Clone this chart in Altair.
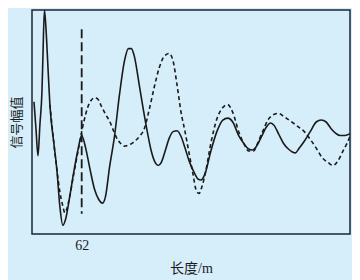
import altair as alt
import pandas as pd

# length (m) and signal amplitude (arbitrary units)
solid_x = [14, 16, 18, 20, 22, 23, 24.5, 26, 28, 30, 34, 37, 40, 43, 46, 50, 54, 58, 62, 66,
           70, 75, 79, 83, 86, 90, 95, 100, 105, 109, 112, 115, 120, 124, 128, 132, 136, 139,
           142, 146, 150, 154, 158, 162, 166, 170, 175, 179, 182, 186, 192, 198, 204, 209, 214,
           220, 225, 230, 234, 238, 243, 248, 252, 256, 260, 265, 270, 274, 277, 281, 286, 292,
           298, 303, 308, 313, 318, 322, 327, 332]
solid_y = [137, 109, 81, 114, 147, 184, 232, 214, 174, 134, 94, 67, 29, 9, 16, 39, 64, 86, 102, 89,
           69, 46, 36, 32, 39, 69, 101, 144, 179, 192, 192, 184, 154, 129, 106, 86, 74, 71,
           74, 86, 99, 106, 107, 101, 89, 76, 64, 57, 56, 62, 86, 106, 118, 120, 116,
           102, 94, 88, 87, 91, 101, 111, 115, 112, 104, 94, 88, 85, 84, 89, 96, 106,
           116, 118, 116, 109, 104, 102, 102, 104]

dashed_x = [30, 34, 37, 40, 43, 45, 47, 50, 54, 58, 62, 66, 70, 75, 78, 82, 86, 90, 94, 98,
            102, 105, 109, 114, 120, 125, 130, 135, 140, 145, 150, 154, 158, 162, 166, 170, 174,
            177, 180, 183, 187, 192, 198, 204, 209, 214, 220, 225, 230, 235, 239, 244, 250,
            256, 260, 265, 272, 280, 286, 292, 298, 304, 310, 315, 320, 325, 329, 332]
dashed_y = [134, 94, 67, 44, 29, 22, 26, 39, 62, 84, 106, 124, 136, 141, 140, 132, 124, 117, 107, 98,
            93, 91, 92, 95, 101, 109, 129, 152, 172, 184, 187, 179, 154, 126, 106, 84, 62,
            46, 42, 49, 66, 94, 119, 131, 134, 126, 106, 94, 86, 86, 94, 106, 119,
            124, 125, 122, 117, 111, 106, 98, 89, 79, 74, 71, 76, 86, 94, 101]

marker_x = [62]
marker_top = [212]
marker_bottom = [21]

x_domain = [12, 332]
y_domain = [0, 232]

FONT = "Liberation Serif, Noto Sans CJK SC"
INK = "#1a1a1a"
BG = "#d5eefa"

df_s = pd.DataFrame({"x": solid_x, "y": solid_y})
df_d = pd.DataFrame({"x": dashed_x, "y": dashed_y})
df_m = pd.DataFrame({"x": marker_x, "y": marker_top, "y2": marker_bottom})

xscale = alt.Scale(domain=x_domain, nice=False, zero=False)
yscale = alt.Scale(domain=y_domain, nice=False, zero=False)

xaxis = alt.Axis(values=[62], title="长度/m", domain=False, ticks=False, grid=False,
                 labelFont=FONT, labelFontSize=14, labelColor=INK, labelPadding=4,
                 titleFont=FONT, titleFontSize=14, titleFontWeight="normal", titleColor=INK,
                 titlePadding=9)
yaxis = alt.Axis(labels=False, ticks=False, domain=False, grid=False, title="信号幅值",
                 titleFont=FONT, titleFontSize=13, titleFontWeight="normal", titleColor=INK,
                 titlePadding=9)

solid = alt.Chart(df_s).mark_line(color=INK, strokeWidth=1.6, interpolate="monotone", clip=True).encode(
    x=alt.X("x:Q", scale=xscale, axis=xaxis),
    y=alt.Y("y:Q", scale=yscale, axis=yaxis),
)
dashed = alt.Chart(df_d).mark_line(color=INK, strokeWidth=1.6, strokeDash=[4, 3],
                                   interpolate="monotone", clip=True).encode(
    x=alt.X("x:Q", scale=xscale),
    y=alt.Y("y:Q", scale=yscale),
)
marker = alt.Chart(df_m).mark_rule(color=INK, strokeWidth=1.8, strokeDash=[9, 4]).encode(
    x=alt.X("x:Q", scale=xscale),
    y=alt.Y("y:Q", scale=yscale),
    y2="y2:Q",
)

chart = (alt.layer(solid, dashed, marker)
         .properties(width=318, height=224, background=BG,
                     autosize=alt.AutoSizeParams(type="none"),
                     padding={"left": 24, "top": 2, "right": 2, "bottom": 46})
         .configure_view(stroke="#1b2633", strokeWidth=1.5, fill=BG))

chart.save("out.html", embed_options={"renderer": "svg", "actions": False})
